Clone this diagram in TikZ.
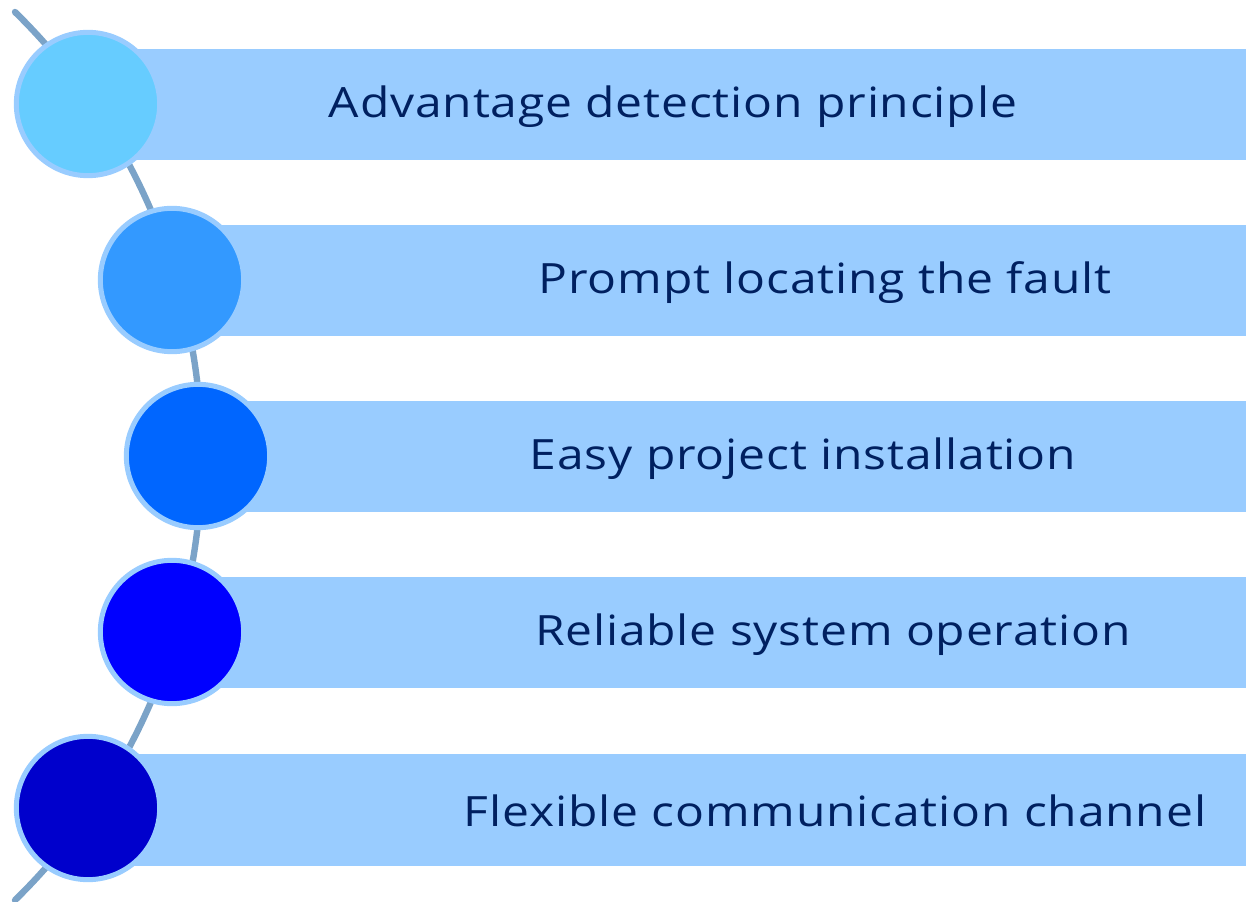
\documentclass[tikz,border=0pt]{standalone}
\usepackage{fontspec}
\setmainfont{Open Sans}[FakeStretch=1.15,LetterSpace=2]
\definecolor{barblue}{HTML}{99CCFF}
\definecolor{arcblue}{HTML}{7BA3C8}
\definecolor{txtblue}{HTML}{002060}
\definecolor{cA}{HTML}{66CCFF}
\definecolor{cB}{HTML}{3399FF}
\definecolor{cC}{HTML}{0066FF}
\definecolor{cD}{HTML}{0000FF}
\definecolor{cE}{HTML}{0000CC}
\begin{document}
\begin{tikzpicture}[x=0.75pt,y=-0.75pt,
  bar/.style={fill=barblue,draw=none},
  dot/.style={circle,draw=barblue,line width=3.75pt,minimum size=107.5pt,inner sep=0pt},
  lbl/.style={text=txtblue,font=\fontsize{31.3}{37}\selectfont,inner sep=0pt,anchor=center},
  spine/.style={draw=arcblue,line width=4.8pt,line cap=round}]
\useasboundingbox (0,0) rectangle (1246,902);
% spine arc
\draw[spine] (15,12) arc[start angle=-45.6,end angle=45.6,radius=621.6];
% bars
\fill[bar] (88,49) rectangle (1246,160);
\fill[bar] (172,225) rectangle (1246,336);
\fill[bar] (198,401) rectangle (1246,512);
\fill[bar] (172,577) rectangle (1246,688);
\fill[bar] (88,754) rectangle (1246,866);
% circles
\node[dot,fill=cA] (c1) at (88,104) {};
\node[dot,fill=cB] (c2) at (172,280) {};
\node[dot,fill=cC] (c3) at (198,456) {};
\node[dot,fill=cD] (c4) at (172,632) {};
\node[dot,fill=cE] (c5) at (88,808) {};
% labels
\node[lbl] (t1) at (673,107) {Advantage detection principle};
\node[lbl] (t2) at (825,283) {Prompt locating the fault};
\node[lbl] (t3) at (803,459) {Easy project installation};
\node[lbl] (t4) at (833,635) {Reliable system operation};
\node[lbl] (t5) at (835,811) {Flexible communication channel};
\end{tikzpicture}
\end{document}
